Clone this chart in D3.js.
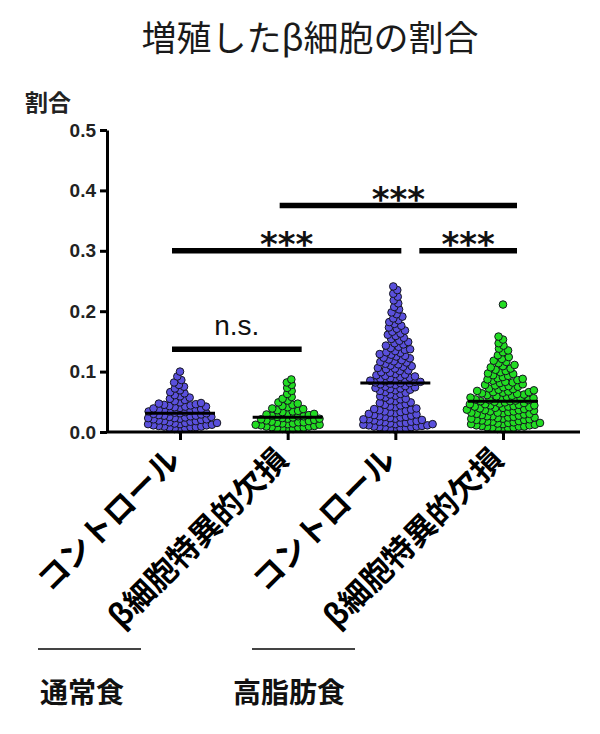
<!DOCTYPE html>
<html>
<head>
<meta charset="utf-8">
<script src="https://cdn.jsdelivr.net/npm/d3@7"></script>
<style>
  body { margin: 0; background: #fff; }
  svg { display: block; }
</style>
</head>
<body>
<div id="chart"></div>
<script>
var width  = 600;
var height = 734;

// group labels along the x axis
var categories = ["コントロール", "β細胞特異的欠損", "コントロール", "β細胞特異的欠損"];
var diets      = ["通常食", "高脂肪食"];
var colors     = ["#5a50dc", "#22dc22", "#5a50dc", "#22dc22"];

// 通常食・コントロール
var ndControl = [0.004,0.005,0.006,0.007,0.008,0.008,0.009,0.009,0.010,
  0.011,0.011,0.012,0.013,0.013,0.014,0.015,0.015,0.016,0.017,0.018,0.018,0.019,
  0.020,0.021,0.021,0.022,0.023,0.023,0.024,0.025,0.025,0.026,0.027,0.027,0.028,0.029,
  0.030,0.031,0.031,0.032,0.033,0.034,0.034,0.035,0.036,0.037,0.037,0.038,0.039,
  0.040,0.041,0.042,0.042,0.043,0.044,0.045,0.046,0.047,0.048,0.049,
  0.051,0.053,0.055,0.057,0.059,
  0.061,0.064,0.066,0.069,
  0.072,0.075,0.078,
  0.082,0.086,
  0.092,0.100];

// 通常食・β細胞特異的欠損
var ndKnockout = [0.004,0.005,0.005,0.006,0.007,0.007,0.008,0.009,0.009,0.010,
  0.011,0.012,0.012,0.013,0.014,0.014,0.015,0.016,0.016,0.017,0.018,0.019,
  0.020,0.021,0.022,0.022,0.023,0.024,0.025,0.026,0.026,0.027,0.028,0.029,
  0.030,0.031,0.033,0.034,0.035,0.036,0.038,0.039,
  0.041,0.043,0.045,0.047,0.049,
  0.052,0.055,0.058,
  0.063,0.068,
  0.073,0.078,
  0.082,0.087];

// 高脂肪食・コントロール
var hfControl = [0.004,0.005,0.006,0.006,0.007,0.008,0.008,0.009,0.009,0.010,
  0.011,0.011,0.012,0.013,0.013,0.014,0.015,0.015,0.016,0.017,0.017,0.018,0.019,
  0.020,0.021,0.021,0.022,0.023,0.024,0.025,0.025,0.026,0.027,0.028,0.029,
  0.030,0.031,0.032,0.033,0.034,0.035,0.036,0.037,0.038,0.039,
  0.041,0.042,0.044,0.045,0.046,0.048,0.049,
  0.051,0.052,0.054,0.055,0.057,0.059,
  0.060,0.062,0.063,0.065,0.066,0.068,0.069,
  0.070,0.071,0.072,0.073,0.074,0.075,0.076,0.078,0.079,
  0.080,0.081,0.081,0.082,0.083,0.083,0.084,0.085,0.086,0.087,0.088,0.089,
  0.090,0.091,0.092,0.093,0.094,0.095,0.096,0.098,0.099,
  0.101,0.102,0.104,0.105,0.106,0.108,0.109,
  0.110,0.112,0.113,0.115,0.116,0.117,0.119,
  0.120,0.122,0.123,0.125,0.126,0.128,0.129,
  0.131,0.132,0.134,0.136,0.137,0.139,
  0.141,0.143,0.145,0.147,0.149,
  0.151,0.154,0.156,0.159,
  0.161,0.163,0.166,0.168,
  0.171,0.173,0.176,0.179,
  0.182,0.185,0.188,
  0.191,0.195,0.198,
  0.203,0.207,
  0.213,0.218,
  0.224,0.229,
  0.235,0.241];

// 高脂肪食・β細胞特異的欠損
var hfKnockout = [0.004,0.005,0.006,0.007,0.007,0.008,0.009,0.009,0.010,
  0.011,0.011,0.012,0.013,0.013,0.014,0.015,0.015,0.016,0.017,0.017,0.018,0.019,
  0.020,0.020,0.021,0.022,0.022,0.023,0.024,0.024,0.025,0.026,0.026,0.027,0.028,0.029,
  0.030,0.030,0.031,0.032,0.032,0.033,0.034,0.034,0.035,0.036,0.036,0.037,0.038,0.039,
  0.040,0.040,0.041,0.042,0.042,0.043,0.044,0.044,0.045,0.046,0.046,0.047,0.048,0.049,
  0.050,0.051,0.051,0.052,0.053,0.053,0.054,0.055,0.056,0.056,0.057,0.058,0.059,
  0.060,0.061,0.062,0.063,0.064,0.065,0.066,0.066,0.067,0.068,0.069,
  0.070,0.071,0.072,0.074,0.075,0.076,0.077,0.078,0.079,
  0.081,0.082,0.083,0.085,0.086,0.087,0.088,0.089,
  0.091,0.093,0.094,0.096,0.097,0.099,
  0.101,0.103,0.105,0.107,0.109,
  0.111,0.114,0.116,0.118,
  0.121,0.124,0.127,
  0.132,0.135,0.138,
  0.143,0.147,
  0.153,0.158,
  0.211];

var groups = [ndControl, ndKnockout, hfControl, hfKnockout];

// significance comparisons
var sigFrom  = [0, 0, 2, 1];
var sigTo    = [1, 2, 3, 3];
var sigLevel = [0.137, 0.30, 0.30, 0.375];
var sigLabel = ["n.s.", "***", "***", "***"];

var yTicks = [0, 0.1, 0.2, 0.3, 0.4, 0.5];

var svg = d3.select('#chart')
  .append('svg')
  .attr('width', width)
  .attr('height', height);

var y = d3.scaleLinear().domain([0, 0.5]).range([432, 130]);
var x = d3.scalePoint().domain(d3.range(categories.length)).range([180, 503]);
var axisLeftX = 107;
var axisRightX = 580;

var jp = '"Noto Sans CJK JP", "Noto Sans", sans-serif';

// title
svg.append('text')
  .attr('x', 310)
  .attr('y', 51)
  .attr('text-anchor', 'middle')
  .style('font-family', jp)
  .style('font-size', '35px')
  .style('fill', '#1a1a1a')
  .text('増殖したβ細胞の割合');

// y axis label
svg.append('text')
  .attr('x', 48)
  .attr('y', 111)
  .attr('text-anchor', 'middle')
  .style('font-family', jp)
  .style('font-size', '23px')
  .style('font-weight', 'bold')
  .style('fill', '#222')
  .text('割合');

// y axis
var yAxis = svg.append('g')
  .attr('transform', 'translate(' + axisLeftX + ',0)')
  .call(d3.axisLeft(y).tickValues(yTicks).tickFormat(d3.format('.1f')).tickSize(7).tickPadding(4).tickSizeOuter(0));
yAxis.selectAll('path, line').style('stroke', '#000').style('stroke-width', 3);
yAxis.selectAll('text')
  .style('font-family', '"Liberation Sans", Arial, sans-serif')
  .style('font-size', '19px')
  .style('font-weight', 'bold')
  .style('fill', '#222');

// beeswarm layout: place each point at the smallest offset that does not collide
var dotR = 3.8;
var gap = 5.4;
function swarm(values) {
  var placed = [];
  values.slice().sort(d3.ascending).forEach(function(v) {
    var cy = y(v);
    var blocked = [];
    placed.forEach(function(p) {
      var dy = Math.abs(p.y - cy);
      if (dy < gap) {
        var w = Math.sqrt(gap * gap - dy * dy);
        blocked.push([p.dx - w, p.dx + w]);
      }
    });
    var cands = [0];
    blocked.forEach(function(b) { cands.push(b[0], b[1]); });
    cands.sort(function(a, b) { return Math.abs(a) - Math.abs(b); });
    var dx = cands.find(function(c) {
      return blocked.every(function(b) { return c <= b[0] + 1e-6 || c >= b[1] - 1e-6; });
    });
    placed.push({ v: v, y: cy, dx: dx });
  });
  return placed;
}

groups.forEach(function(vals, i) {
  var g = svg.append('g').attr('class', 'group');
  g.selectAll('circle')
    .data(swarm(vals))
    .enter()
    .append('circle')
    .attr('cx', function(d) { return x(i) + d.dx; })
    .attr('cy', function(d) { return d.y; })
    .attr('r', dotR)
    .style('fill', colors[i])
    .style('stroke', '#151520')
    .style('stroke-width', 1);

  // median line
  var m = d3.median(vals);
  g.append('line')
    .attr('x1', x(i) - 35)
    .attr('x2', x(i) + 35)
    .attr('y1', y(m))
    .attr('y2', y(m))
    .style('stroke', '#000')
    .style('stroke-width', 3);
});

// x axis
var xAxis = svg.append('g')
  .attr('transform', 'translate(0,' + y(0) + ')')
  .call(d3.axisBottom(x).tickFormat(function(i) { return categories[i]; }).tickSize(8).tickPadding(0).tickSizeOuter(0));
xAxis.select('.domain')
  .attr('d', 'M' + axisLeftX + ',0H' + axisRightX);
xAxis.selectAll('path, line').style('stroke', '#000').style('stroke-width', 3);
xAxis.selectAll('text')
  .attr('y', 0)
  .attr('dy', '0.35em')
  .attr('text-anchor', 'end')
  .attr('transform', 'translate(-6,22) rotate(-45)')
  .style('font-family', jp)
  .style('font-size', '31px')
  .style('font-weight', 'bold')
  .style('fill', '#000');

// significance bars
sigFrom.forEach(function(a, k) {
  var b = sigTo[k];
  var x1 = x(a) - 8;
  var x2 = x(b) + 14;
  // leave a gap when another bar at the same level ends on this group
  sigTo.forEach(function(t, j) { if (j !== k && t === a && sigLevel[j] === sigLevel[k]) x1 = x(a) + 24; });
  sigFrom.forEach(function(f, j) { if (j !== k && f === b && sigLevel[j] === sigLevel[k]) x2 = x(b) + 6; });
  var yy = y(sigLevel[k]);
  svg.append('line')
    .attr('x1', x1).attr('x2', x2)
    .attr('y1', yy).attr('y2', yy)
    .style('stroke', '#000')
    .style('stroke-width', 5.5);
  var isNs = sigLabel[k] === 'n.s.';
  svg.append('text')
    .attr('x', (x1 + x2) / 2)
    .attr('y', isNs ? yy - 14 : yy + 5)
    .attr('text-anchor', 'middle')
    .style('font-family', isNs ? '"Liberation Sans", Arial, sans-serif' : '"DejaVu Sans", sans-serif')
    .style('font-size', isNs ? '28px' : '34px')
    .style('font-weight', isNs ? 'normal' : 'bold')
    .style('fill', '#111')
    .text(sigLabel[k]);
});

// diet group labels
var dietX = [38, 252];
diets.forEach(function(d, i) {
  svg.append('line')
    .attr('x1', dietX[i]).attr('x2', dietX[i] + 103)
    .attr('y1', 649).attr('y2', 649)
    .style('stroke', '#444')
    .style('stroke-width', 2);
  svg.append('text')
    .attr('x', dietX[i] + (i === 0 ? 2 : -19))
    .attr('y', 703)
    .style('font-family', jp)
    .style('font-size', '28px')
    .style('font-weight', 'bold')
    .style('fill', '#111')
    .text(d);
});
</script>
</body>
</html>
